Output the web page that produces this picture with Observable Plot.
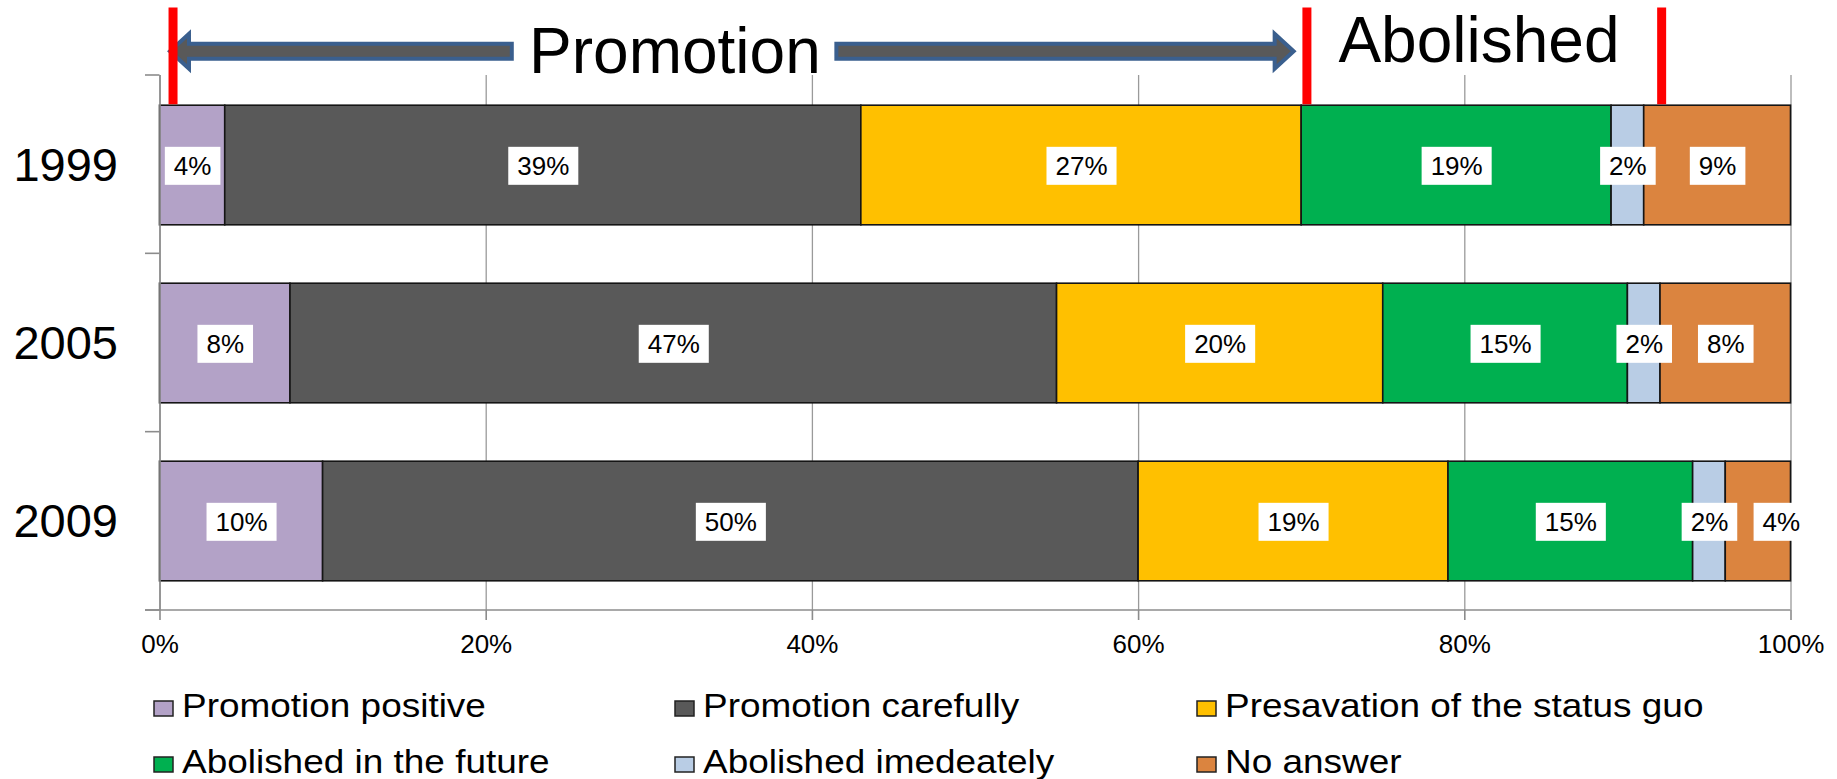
<!DOCTYPE html>
<html><head><meta charset="utf-8">
<script src="https://cdn.jsdelivr.net/npm/d3@7"></script>
<script src="https://cdn.jsdelivr.net/npm/@observablehq/plot@0.6"></script>
<style>
html,body{margin:0;padding:0;background:#fff;}
#chart{width:1837px;height:779px;position:relative;overflow:hidden;font-family:"Liberation Sans",Arial,sans-serif;}
#chart svg{display:block}
</style></head><body><div id="chart"></div>
<script>
// ---- data ----
const years = ["1999", "2005", "2009"];
const categories = ["Promotion positive", "Promotion carefully", "Presavation of the status guo",
                    "Abolished in the future", "Abolished imedeately", "No answer"];
const colors = ["#B3A2C7", "#595959", "#FFC000", "#00B050", "#B9CDE5", "#DB843F"];
const values1999 = [4, 39, 27, 19, 2, 9];
const values2005 = [8, 47, 20, 15, 2, 8];
const values2009 = [10, 50, 19, 15, 2, 4];
const xTicks = [0, 20, 40, 60, 80, 100];
const separatorLines = [0.83, 70.35, 92.1];      // red separators (% of axis)
const promotionArrowLeft = [21.6, 0.52];         // from, to (% of axis)
const promotionArrowRight = [41.5, 69.66];
const groupLabels = ["Promotion", "Abolished"];
const groupLabelX = [31.6, 80.9];

const FONT = '"Liberation Sans", Arial, sans-serif';
const seriesByYear = [values1999, values2005, values2009];

const rows = [];
years.forEach((yr, i) => {
  let acc = 0;
  seriesByYear[i].forEach((v, j) => {
    rows.push({year: yr, category: categories[j], value: v, x1: acc, x2: acc + v,
               shifted: (yr === "2009" && j === categories.length - 1)});
    acc += v;
  });
});

const W = 1837, H = 665;
const BAR_INSET = 29.2;

const plot = Plot.plot({
  width: W, height: H,
  marginLeft: 159.5, marginRight: 46.5, marginTop: 75, marginBottom: 55,
  style: {fontFamily: FONT, background: "white", overflow: "visible"},
  x: {domain: [0, 100], label: null},
  y: {domain: years, padding: 0, label: null},
  color: {domain: categories, range: colors},
  marks: [
    Plot.gridX(xTicks, {stroke: "#9a9a9a", strokeOpacity: 1, strokeWidth: 1.3}),
    Plot.barX(rows, {x1: "x1", x2: "x2", y: "year", fill: "category",
                     stroke: "#151515", strokeWidth: 1.6,
                     insetTop: BAR_INSET, insetBottom: BAR_INSET}),
    Plot.ruleX([0], {stroke: "#8c8c8c", strokeWidth: 1.6}),
    Plot.axisX(xTicks, {tickFormat: d => d + "%", tickSize: 10, tickPadding: 14, label: null,
                        fontSize: 26, stroke: "#8c8c8c", strokeWidth: 1.6, fill: "black"}),
    Plot.axisY({tickSize: 0, tickPadding: 42, fontSize: 47, fill: "black", label: null}),
    Plot.text(rows.filter(d => !d.shifted), {x: d => (d.x1 + d.x2) / 2, y: "year",
              text: d => d.value + "%", fontSize: 26, fill: "black", dy: 1, ariaLabel: () => "seg-label"}),
    Plot.text(rows.filter(d => d.shifted), {x: d => (d.x1 + d.x2) / 2, y: "year",
              text: d => d.value + "%", fontSize: 26, fill: "black", dx: 23, dy: 1, ariaLabel: () => "seg-label"})
  ]
});

const container = document.getElementById("chart");
container.appendChild(plot);

// scales from the plot
const sx = plot.scale("x"), sy = plot.scale("y");
const xs = d3.scaleLinear(sx.domain, sx.range);
const ys = d3.scaleBand(sy.domain, sy.range)
  .paddingInner(sy.paddingInner || 0).paddingOuter(sy.paddingOuter || 0).align(sy.align ?? 0.5);

const svg = d3.select(plot);

// white boxes behind segment labels
svg.selectAll('text[aria-label="seg-label"]').each(function() {
  const bb = this.getBBox();
  const left = bb.x - 9;
  let right = bb.x + bb.width + 9;
  right = Math.min(right, xs(100) + 1.5);
  const cy = bb.y + bb.height / 2;
  const r = document.createElementNS("http://www.w3.org/2000/svg", "rect");
  r.setAttribute("x", left); r.setAttribute("width", right - left);
  r.setAttribute("y", cy - 19); r.setAttribute("height", 38);
  r.setAttribute("fill", "white"); r.setAttribute("stroke", "none");
  const t = this.getAttribute("transform");
  if (t) r.setAttribute("transform", t);
  this.parentNode.insertBefore(r, this);
});

const ov = svg.append("g").attr("class", "overlay");

// y axis boundary ticks and bottom axis line
const bounds = years.map(y => ys(y)).concat([ys(years[years.length - 1]) + ys.bandwidth()]);
const axisStroke = "#8c8c8c";
ov.selectAll("line.ytick").data(bounds).join("line")
  .attr("x1", xs(0) - 14.5).attr("x2", xs(0)).attr("y1", d => d).attr("y2", d => d)
  .attr("stroke", axisStroke).attr("stroke-width", 1.6);
ov.append("line").attr("x1", xs(0) - 14.5).attr("x2", xs(100))
  .attr("y1", sy.range[1]).attr("y2", sy.range[1])
  .attr("stroke", axisStroke).attr("stroke-width", 1.6);

// block arrows
function arrowPath(xFrom, xTo, yMid, shaftHalf, headHalf, headLen) {
  const dir = Math.sign(xTo - xFrom);
  const base = xTo - dir * headLen;
  return `M${xFrom},${yMid - shaftHalf}L${base},${yMid - shaftHalf}L${base},${yMid - headHalf}` +
         `L${xTo},${yMid}L${base},${yMid + headHalf}L${base},${yMid + shaftHalf}L${xFrom},${yMid + shaftHalf}Z`;
}
[promotionArrowLeft, promotionArrowRight].forEach(([a, b]) => {
  const dir = Math.sign(b - a);
  ov.append("path")
    .attr("d", arrowPath(xs(a), xs(b) - dir * 2, 51.2, 7.5, 17.5, 19))
    .attr("fill", "#595959").attr("stroke", "#3A5F8E").attr("stroke-width", 4)
    .attr("stroke-linejoin", "miter");
});

// red separators
const barTop = ys(years[0]) + BAR_INSET;
ov.selectAll("line.sep").data(separatorLines).join("line")
  .attr("x1", d => xs(d)).attr("x2", d => xs(d))
  .attr("y1", 7.5).attr("y2", barTop)
  .attr("stroke", "#FF0000").attr("stroke-width", 9);

// group labels
const groupBaselines = [72.7, 61.7];
groupLabels.forEach((lab, i) => {
  ov.append("text").text(lab)
    .attr("x", xs(groupLabelX[i])).attr("y", groupBaselines[i])
    .attr("text-anchor", "middle").attr("font-size", 64)
    .attr("font-family", FONT).attr("fill", "black");
});

// legend (below the plot svg)
const legend = d3.create("svg").attr("width", W).attr("height", 779 - H)
  .style("font-family", FONT).style("background", "white");
const colX = [154, 675, 1197];
const rowTop = [36, 92];
categories.forEach((c, i) => {
  const col = i % 3, row = Math.floor(i / 3);
  const g = legend.append("g");
  g.append("rect").attr("x", colX[col]).attr("y", rowTop[row]).attr("width", 19).attr("height", 15)
    .attr("fill", colors[i]).attr("stroke", "#222").attr("stroke-width", 1.5);
  g.append("text").text(c)
    .attr("transform", `translate(${colX[col] + 28},${rowTop[row] + 15.5}) scale(1.12,1)`)
    .attr("font-size", 33).attr("fill", "black");
});
container.appendChild(legend.node());
</script>
</body></html>
